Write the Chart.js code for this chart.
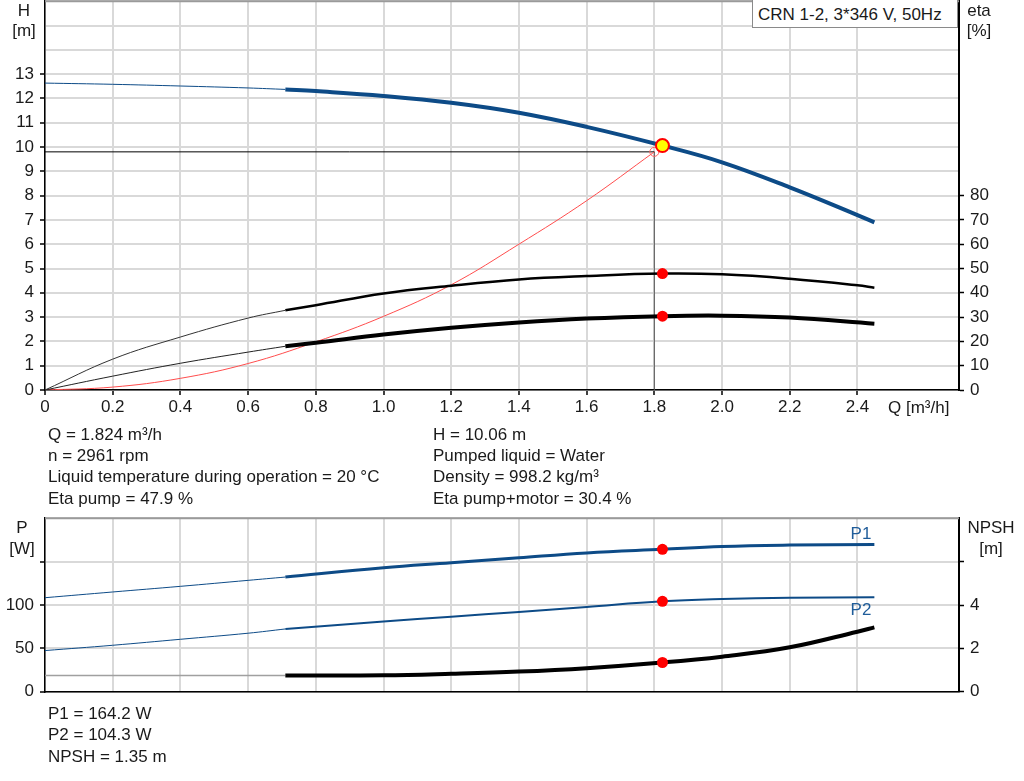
<!DOCTYPE html>
<html>
<head>
<meta charset="utf-8">
<script src="https://cdn.jsdelivr.net/npm/chart.js@4.4.1/dist/chart.umd.min.js"></script>
<style>
  html,body{margin:0;padding:0;background:#fff;}
  body{width:1024px;height:781px;overflow:hidden;position:relative;font-family:"Liberation Sans",Arial,sans-serif;color:#1a1a1a;}
  canvas{position:absolute;}
  .t{position:absolute;font-size:17px;line-height:1;white-space:nowrap;}
  .c{transform:translate(-50%,-50%);text-align:center;}
  .l{transform:translate(0,-50%);}
  #box{position:absolute;left:752px;top:-1px;width:206px;height:29px;border:1px solid #8a8a8a;background:#fff;box-sizing:border-box;}
</style>
</head>
<body>
<canvas id="c1" width="1024" height="440"></canvas>
<canvas id="c2" width="1024" height="200"></canvas>

<div id="box"></div>
<div class="t l" style="left:758px;top:14px;">CRN 1-2, 3*346 V, 50Hz</div>

<div class="t c" style="left:24px;top:10px;">H</div>
<div class="t c" style="left:24px;top:30px;">[m]</div>
<div class="t c" style="left:979px;top:10px;">eta</div>
<div class="t c" style="left:979px;top:30px;">[%]</div>
<div class="t l" style="left:888px;top:407px;">Q [m³/h]</div>

<div class="t l" style="left:48px;top:434px;">Q = 1.824 m³/h</div>
<div class="t l" style="left:48px;top:455px;">n = 2961 rpm</div>
<div class="t l" style="left:48px;top:476px;">Liquid temperature during operation = 20 °C</div>
<div class="t l" style="left:48px;top:498px;">Eta pump = 47.9 %</div>
<div class="t l" style="left:433px;top:434px;">H = 10.06 m</div>
<div class="t l" style="left:433px;top:455px;">Pumped liquid = Water</div>
<div class="t l" style="left:433px;top:476px;">Density = 998.2 kg/m³</div>
<div class="t l" style="left:433px;top:498px;">Eta pump+motor = 30.4 %</div>

<div class="t c" style="left:22px;top:527px;">P</div>
<div class="t c" style="left:22px;top:548px;">[W]</div>
<div class="t c" style="left:991px;top:527px;">NPSH</div>
<div class="t c" style="left:991px;top:548px;">[m]</div>
<div class="t c" style="left:861px;top:533px;color:#1f5c99;">P1</div>
<div class="t c" style="left:861px;top:609px;color:#1f5c99;">P2</div>

<div class="t l" style="left:48px;top:713px;">P1 = 164.2 W</div>
<div class="t l" style="left:48px;top:734px;">P2 = 104.3 W</div>
<div class="t l" style="left:48px;top:756px;">NPSH = 1.35 m</div>

<script>
// ---------------- data ----------------
// Head curve (m) vs flow Q (m3/h)
const qHThin = [0, 0.2, 0.4, 0.6, 0.71];
const hThin  = [12.63, 12.58, 12.51, 12.43, 12.37];
const qH     = [0.71, 0.8, 1.0, 1.2, 1.4, 1.6, 1.824, 2.0, 2.2, 2.4, 2.45];
const hVals  = [12.37, 12.30, 12.10, 11.82, 11.41, 10.83, 10.06, 9.37, 8.34, 7.2, 6.9];

// Eta pump (%)
const qEtaThin   = [0, 0.2, 0.4, 0.6, 0.71];
const etaThin    = [0, 12.7, 21.8, 29.6, 32.8];
const qEta       = [0.71, 0.8, 1.0, 1.2, 1.4, 1.6, 1.824, 2.0, 2.2, 2.4, 2.45];
const etaVals    = [32.8, 34.9, 39.7, 42.9, 45.5, 46.9, 47.9, 47.6, 45.8, 43.1, 42.1];

// Eta pump+motor (%)
const qEtaTotThin = [0, 0.2, 0.4, 0.6, 0.71];
const etaTotThin  = [0, 5.7, 11.0, 15.6, 18.0];
const qEtaTot     = [0.71, 0.8, 1.0, 1.2, 1.4, 1.6, 1.824, 2.0, 2.2, 2.45];
const etaTotVals  = [18.0, 19.4, 22.8, 25.6, 27.8, 29.4, 30.4, 30.6, 29.8, 27.3];

// System curve (m)
const qSys = [0, 0.2, 0.4, 0.6, 0.8, 1.0, 1.2, 1.4, 1.6, 1.8];
const hSys = [0, 0.12, 0.48, 1.09, 1.98, 3.03, 4.33, 6.0, 7.79, 9.8];

// Power P1 / P2 (W)
const qPThin  = [0, 0.2, 0.4, 0.6, 0.71];
const p1Thin  = [108.4, 115.0, 121.5, 128.4, 132.2];
const p2Thin  = [47.5, 53.6, 60.5, 67.5, 72.4];
const qP      = [0.71, 1.0, 1.2, 1.4, 1.6, 1.824, 2.0, 2.2, 2.45];
const p1Vals  = [132.2, 142.9, 148.6, 154.4, 160.0, 164.2, 167.4, 169.0, 169.8];
const p2Vals  = [72.4, 81.0, 86.5, 92.0, 97.8, 104.3, 106.9, 108.4, 108.8];

// NPSH (m)
const qNpshThin = [0, 0.71];
const npshThin  = [0.75, 0.75];
const qNpsh     = [0.71, 1.0, 1.2, 1.4, 1.6, 1.824, 2.0, 2.2, 2.4, 2.45];
const npshVals  = [0.75, 0.76, 0.83, 0.93, 1.09, 1.35, 1.62, 2.05, 2.77, 2.97];

// Duty / operating point
const dutyQ = 1.8, dutyH = 9.8;
const opQ = 1.824, opH = 10.06, opEta = 47.9, opEtaTot = 30.4;
const opP1 = 164.2, opP2 = 104.3, opNpsh = 1.35;

// Axis tick ranges
const qMax = 2.7, qStep = 0.2, qLabelMax = 2.4;
const hMax = 16, hLabelMax = 13;
const etaMax = 160, etaLabelMax = 80;
const pMax = 200, pStep = 50, pLabelMax = 100, pTickMax = 150;
const nMax = 8, nStep = 2, nLabelMax = 4, nTickMax = 6;

// ---------------- helpers ----------------
const mk = (xs, ys) => xs.map((x, i) => ({x: x, y: ys[i]}));
const BLUE = '#0d4b87';
const GRID = '#d9d9d9';
const TXT = '#1a1a1a';
Chart.defaults.font.family = "'Liberation Sans', Arial, sans-serif";
Chart.defaults.font.size = 17;
Chart.defaults.color = TXT;

const topBorder = {
  id: 'topBorder',
  afterDraw(chart) {
    const a = chart.chartArea, ctx = chart.ctx;
    ctx.save();
    ctx.strokeStyle = '#9a9a9a';
    ctx.lineWidth = 2;
    ctx.beginPath();
    ctx.moveTo(a.left, a.top);
    ctx.lineTo(a.right, a.top);
    ctx.stroke();
    ctx.restore();
  }
};

function line(data, axis, color, width, extra) {
  return Object.assign({data: data, yAxisID: axis, borderColor: color, borderWidth: width,
    pointRadius: 0, fill: false, tension: 0.4}, extra || {});
}
function pt(data, axis, r, bg, bc, bw) {
  return {data: data, yAxisID: axis, showLine: false, pointRadius: r, pointHoverRadius: r,
    pointBackgroundColor: bg, pointBorderColor: bc, pointBorderWidth: bw};
}
const tickCol = (lim) => (ctx) => (ctx.tick && ctx.tick.value <= lim + 1e-9) ? '#000' : 'rgba(0,0,0,0)';

function place(chart, canvas, L, T, R, B) {
  for (let k = 0; k < 4; k++) {
    const a = chart.chartArea;
    const w = chart.width, h = chart.height;
    const nw = Math.round(w + ((R - L) - (a.right - a.left)));
    const nh = Math.round(h + ((B - T) - (a.bottom - a.top)));
    if (nw === w && nh === h) break;
    chart.resize(nw, nh);
  }
  const a = chart.chartArea;
  canvas.style.left = (L - a.left) + 'px';
  canvas.style.top = (T - a.top) + 'px';
}

// ---------------- upper chart ----------------
const cv1 = document.getElementById('c1');
const chart1 = new Chart(cv1, {
  type: 'line',
  data: {datasets: [
    pt(mk([opQ], [opH]), 'yH', 6.5, '#ffff00', '#ff0000', 2),
    pt(mk([opQ], [opEta]), 'yE', 5.5, '#ff0000', '#ff0000', 0),
    pt(mk([opQ], [opEtaTot]), 'yE', 5.5, '#ff0000', '#ff0000', 0),
    pt(mk([dutyQ], [dutyH]), 'yH', 4.5, 'rgba(0,0,0,0)', '#ff6060', 1),
    line(mk(qH, hVals), 'yH', BLUE, 4),
    line(mk(qHThin, hThin), 'yH', BLUE, 1),
    line(mk(qEta, etaVals), 'yE', '#000', 2.5),
    line(mk(qEtaThin, etaThin), 'yE', '#333', 1),
    line(mk(qEtaTot, etaTotVals), 'yE', '#000', 4),
    line(mk(qEtaTotThin, etaTotThin), 'yE', '#222', 1),
    line(mk(qSys, hSys), 'yH', '#ff4d4d', 1),
    line(mk([0, dutyQ], [dutyH, dutyH]), 'yH', '#000', 1, {tension: 0}),
    line(mk([dutyQ, dutyQ], [0, dutyH]), 'yH', '#555', 1, {tension: 0})
  ]},
  options: {
    responsive: false, maintainAspectRatio: false, animation: false, devicePixelRatio: 1,
    layout: {padding: 0},
    plugins: {legend: {display: false}, tooltip: {enabled: false}},
    events: [],
    scales: {
      x: {type: 'linear', position: 'bottom', min: 0, max: qMax,
        ticks: {stepSize: qStep, autoSkip: false, maxRotation: 0, padding: 2, color: TXT,
          callback: (v) => v > qLabelMax + 1e-6 ? (v > qMax - 0.05 ? null : '') : (Math.abs(v) < 1e-9 ? '0' : v.toFixed(1))},
        grid: {color: GRID, lineWidth: 2, tickLength: 5, tickColor: '#000', tickWidth: 1.5},
        border: {color: '#000', width: 1.5},
        afterFit: (s) => { s.height = 40; }},
      yH: {type: 'linear', position: 'left', min: 0, max: hMax,
        ticks: {stepSize: 1, padding: 6, color: TXT, callback: (v) => v <= hLabelMax ? String(v) : ''},
        grid: {color: GRID, lineWidth: 2, tickLength: 5, tickColor: tickCol(hLabelMax), tickWidth: 1.5},
        border: {color: '#000', width: 1.5},
        afterFit: (s) => { s.width = 45; }},
      yE: {type: 'linear', position: 'right', min: 0, max: etaMax,
        ticks: {stepSize: 10, padding: 6, color: TXT, callback: (v) => v <= etaLabelMax ? String(v) : ''},
        grid: {drawOnChartArea: false, tickLength: 5, tickColor: tickCol(etaLabelMax), tickWidth: 1.5},
        border: {color: '#000', width: 2},
        afterFit: (s) => { s.width = 65; }}
    }
  },
  plugins: [topBorder]
});
place(chart1, cv1, 45, 1, 959, 390);

// ---------------- lower chart ----------------
const cv2 = document.getElementById('c2');
const chart2 = new Chart(cv2, {
  type: 'line',
  data: {datasets: [
    pt(mk([opQ], [opP1]), 'yP', 5.5, '#ff0000', '#ff0000', 0),
    pt(mk([opQ], [opP2]), 'yP', 5.5, '#ff0000', '#ff0000', 0),
    pt(mk([opQ], [opNpsh]), 'yN', 5.5, '#ff0000', '#ff0000', 0),
    line(mk(qP, p1Vals), 'yP', BLUE, 3),
    line(mk(qPThin, p1Thin), 'yP', BLUE, 1),
    line(mk(qP, p2Vals), 'yP', BLUE, 2),
    line(mk(qPThin, p2Thin), 'yP', BLUE, 1),
    line(mk(qNpsh, npshVals), 'yN', '#000', 4),
    line(mk(qNpshThin, npshThin), 'yN', '#a0a0a0', 1.5, {tension: 0})
  ]},
  options: {
    responsive: false, maintainAspectRatio: false, animation: false, devicePixelRatio: 1,
    layout: {padding: 0},
    plugins: {legend: {display: false}, tooltip: {enabled: false}},
    events: [],
    scales: {
      x: {type: 'linear', position: 'bottom', min: 0, max: qMax,
        ticks: {display: false, stepSize: qStep, autoSkip: false},
        grid: {color: GRID, lineWidth: 2, drawTicks: false},
        border: {color: '#000', width: 1.5},
        afterFit: (s) => { s.height = 10; }},
      yP: {type: 'linear', position: 'left', min: 0, max: pMax,
        ticks: {stepSize: pStep, padding: 6, color: TXT, callback: (v) => v <= pLabelMax ? String(v) : ''},
        grid: {color: GRID, lineWidth: 2, tickLength: 5, tickColor: tickCol(pTickMax), tickWidth: 1.5},
        border: {color: '#000', width: 1.5},
        afterFit: (s) => { s.width = 45; }},
      yN: {type: 'linear', position: 'right', min: 0, max: nMax,
        ticks: {stepSize: nStep, padding: 6, color: TXT, callback: (v) => v <= nLabelMax ? String(v) : ''},
        grid: {drawOnChartArea: false, tickLength: 5, tickColor: tickCol(nTickMax), tickWidth: 1.5},
        border: {color: '#000', width: 2},
        afterFit: (s) => { s.width = 65; }}
    }
  },
  plugins: [topBorder]
});
place(chart2, cv2, 45, 518, 959, 692);
</script>
</body>
</html>
